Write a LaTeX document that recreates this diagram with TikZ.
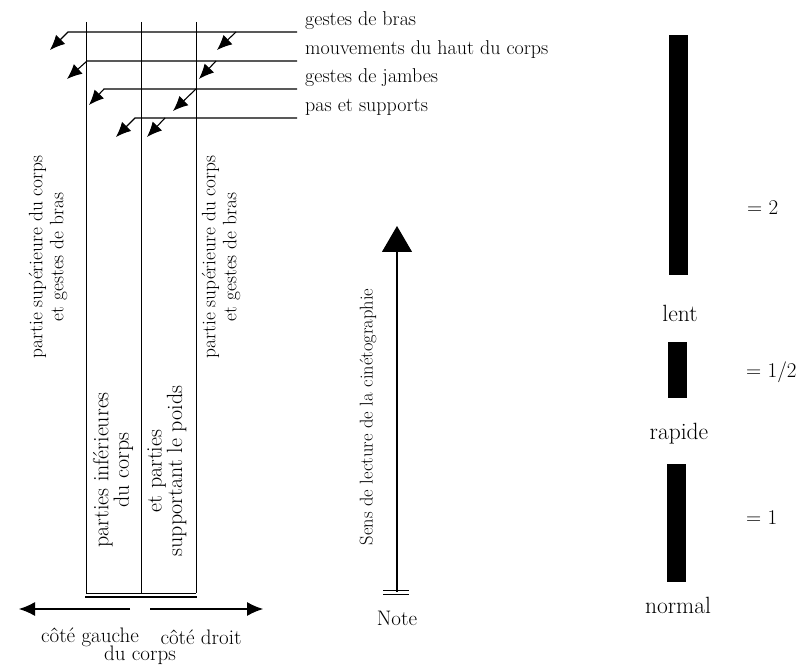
\documentclass[tikz,border=0pt]{standalone}
\usetikzlibrary{arrows.meta}
\begin{document}
\begin{tikzpicture}[x=1pt,y=-1pt,
  ln/.style={line width=1pt},
  arr/.style={line width=1.1pt,-{Latex[length=15pt,width=13pt]}},
  bigarr/.style={line width=1.1pt,-{Latex[length=16pt,width=14pt]}},
  toplbl/.style={font=\fontsize{20}{22}\selectfont, inner sep=0pt, anchor=base west},
  vlbl/.style={font=\fontsize{19.4}{21}\selectfont, inner sep=0pt, rotate=90, align=center},
  slbl/.style={font=\fontsize{18.5}{21}\selectfont, inner sep=0pt, rotate=90, align=center},
  mlbl/.style={font=\fontsize{22}{19}\selectfont, inner sep=0pt, rotate=90, align=center},
  txt/.style={font=\fontsize{21}{22}\selectfont, inner sep=0pt},
  rtxt/.style={font=\fontsize{23.5}{24}\selectfont, inner sep=0pt},
  bar/.style={fill=black, draw=none}]
\useasboundingbox (0,0) rectangle (798,668);

% columns
\coordinate (v1t) at (86,22);  \coordinate (v1b) at (86,593);
\coordinate (v2t) at (141,22); \coordinate (v2b) at (141,593);
\coordinate (v3t) at (196,22); \coordinate (v3b) at (196,593);
\draw[ln] (v1t) -- (v1b);
\draw[ln] (v2t) -- (v2b);
\draw[ln] (v3t) -- (v3b);
\draw[ln] (v1b) -- (v3b);
\coordinate (d1) at (85,597); \coordinate (d2) at (197,597);
\draw[line width=1.6pt] (d1) -- (d2);

% horizontal lines with bent arrows
\coordinate (h1r) at (297,32);  \coordinate (h1l) at (68,32);  \coordinate (h1t) at (50,50);
\coordinate (h2r) at (297,61);  \coordinate (h2l) at (87,61);  \coordinate (h2t) at (67,79);
\coordinate (h3r) at (297,89);  \coordinate (h3l) at (104,89); \coordinate (h3t) at (89,105);
\coordinate (h4r) at (297,118); \coordinate (h4l) at (135,118); \coordinate (h4t) at (116,137);
\draw[arr] (h1r) -- (h1l) -- (h1t);
\draw[arr] (h2r) -- (h2l) -- (h2t);
\draw[arr] (h3r) -- (h3l) -- (h3t);
\draw[arr] (h4r) -- (h4l) -- (h4t);

% right diagonal arrows
\coordinate (a1s) at (236,32);  \coordinate (a1t) at (217,50);
\coordinate (a2s) at (216,61);  \coordinate (a2t) at (199,79);
\coordinate (a3s) at (196,89);  \coordinate (a3t) at (173,111);
\coordinate (a4s) at (165,118); \coordinate (a4t) at (147,137);
\draw[arr] (a1s) -- (a1t);
\draw[arr] (a2s) -- (a2t);
\draw[arr] (a3s) -- (a3t);
\draw[arr] (a4s) -- (a4t);

% top labels
\node[toplbl] (l1) at (305,26) {gestes de bras};
\node[toplbl] (l2) at (305,55) {mouvements du haut du corps};
\node[toplbl] (l3) at (305,83) {gestes de jambes};
\node[toplbl] (l4) at (305,112) {pas et supports};

% vertical labels
\node[vlbl] (ls) at (48,257) {partie supérieure du corps\\et gestes de bras};
\node[vlbl] (rs) at (221,257) {partie supérieure du corps\\et gestes de bras};
\node[mlbl] (ml) at (113,470) {parties inférieures\\du corps};
\node[mlbl] (mr) at (167,471) {et parties\\supportant le poids};

% bottom side arrow
\coordinate (bl0) at (130,609); \coordinate (bl1) at (19,609);
\coordinate (br0) at (150,609); \coordinate (br1) at (263,609);
\draw[bigarr] (bl0) -- (bl1);
\draw[bigarr] (br0) -- (br1);
\node[txt] (cg) at (90,637) {côté gauche};
\node[txt] (cd) at (201,637) {côté droit};
\node[txt] (dc) at (140,655) {du corps};

% reading direction
\coordinate (sb) at (397,592); \coordinate (st) at (397,226);
\draw[line width=1.1pt,-{Triangle[length=26pt,width=30pt]}] (sb) -- (st);
\coordinate (n1a) at (383,590); \coordinate (n1b) at (409,590);
\coordinate (n2a) at (383,594); \coordinate (n2b) at (409,594);
\draw[ln] (n1a) -- (n1b);
\draw[ln] (n2a) -- (n2b);
\node[txt] (note) at (397,618) {Note};
\node[slbl] (sens) at (368,417) {Sens de lecture de la cinétographie};

% right bars
\fill[bar] (669,35) rectangle (688,275);
\fill[bar] (668,342) rectangle (687,398);
\fill[bar] (667,464) rectangle (686,582);
\node[rtxt] (lent) at (680,313) {lent};
\node[rtxt] (rap) at (679,434) {rapide};
\node[rtxt] (norm) at (678,605) {normal};
\node[txt, anchor=west] (e2) at (747,208) {= 2};
\node[txt, anchor=west] (e12) at (746,372) {= 1/2};
\node[txt, anchor=west] (e1) at (746,518) {= 1};
\end{tikzpicture}
\end{document}
